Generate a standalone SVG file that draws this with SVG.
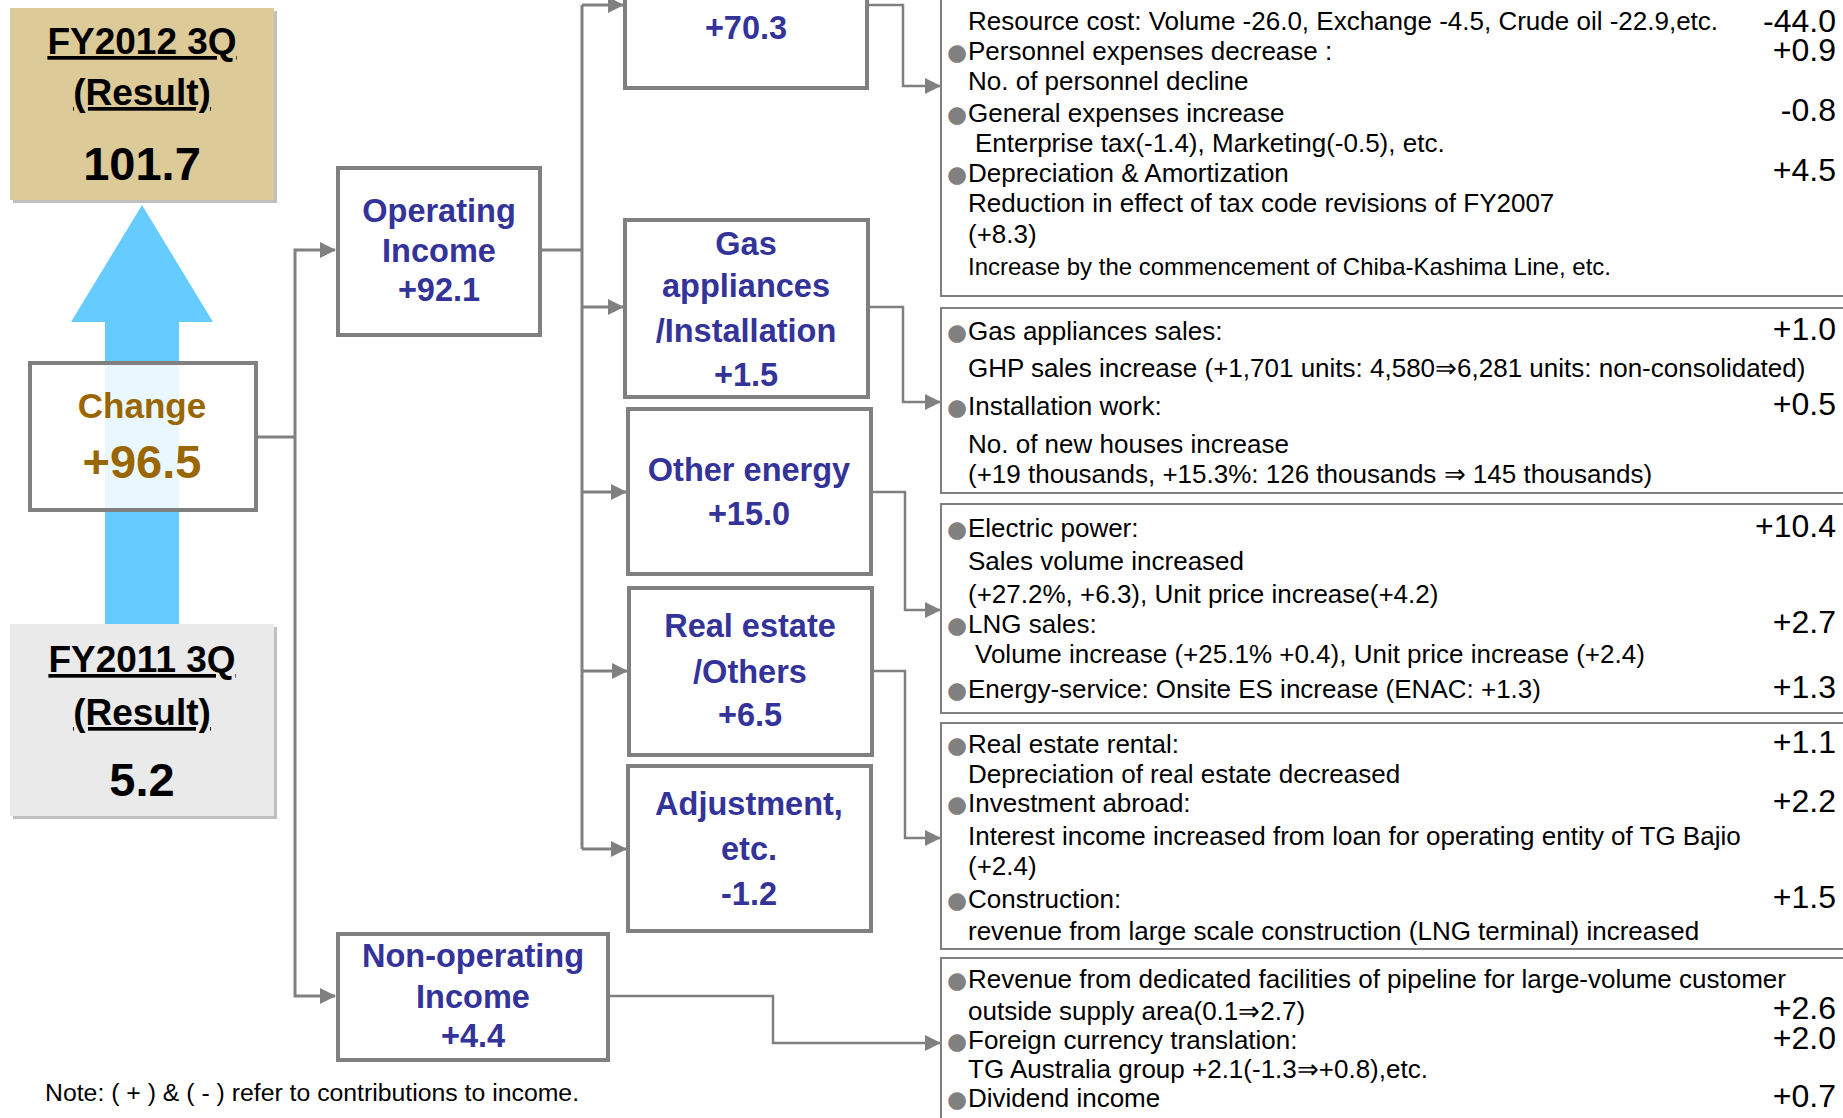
<svg xmlns="http://www.w3.org/2000/svg" width="1843" height="1118" viewBox="0 0 1843 1118">
<style>
.box{fill:#fff;stroke:#808080;stroke-width:4}
.panel{fill:#fff;stroke:#808080;stroke-width:2}
.lbl{font-family:"Liberation Sans",Arial,sans-serif;font-weight:bold;font-size:32.5px;fill:#333399;text-anchor:middle}
.big{font-family:"Liberation Sans",Arial,sans-serif;font-weight:bold;fill:#000;text-anchor:middle}
.t{font-family:"Liberation Sans",Arial,sans-serif;font-size:26px;fill:#000}
.n{font-family:"Liberation Sans",Arial,sans-serif;font-size:32px;fill:#000;text-anchor:end}
.b{font-family:"DejaVu Sans",sans-serif;font-size:23px;fill:#808080}
.conn{fill:none;stroke:#808080;stroke-width:3}
.conn2{fill:none;stroke:#808080;stroke-width:2.5}
</style>
<defs>
<marker id="arr" markerUnits="userSpaceOnUse" markerWidth="16" markerHeight="16" refX="15" refY="8" orient="auto">
<path d="M0,0 L16,8 L0,16 z" fill="#808080"/>
</marker>
</defs>

<g id="fy2012">
<rect x="13" y="11" width="264" height="192" fill="#BFBFBF"/>
<rect x="10" y="8" width="264" height="192" fill="#DCCA98"/>
<text class="big" x="142" y="54" font-size="37" text-decoration="underline">FY2012 3Q</text>
<text class="big" x="142" y="105" font-size="37" text-decoration="underline">(Result)</text>
<text class="big" x="142" y="180" font-size="47">101.7</text>
</g>

<g id="up-arrow">
<path d="M142,205 L213,322 L179,322 L179,624 L105,624 L105,322 L71,322 z" fill="#66CCFF"/>
</g>

<g id="fy2011">
<rect x="13" y="627" width="264" height="192" fill="#BFBFBF"/>
<rect x="10" y="624" width="264" height="192" fill="#EAEAEA"/>
<text class="big" x="142" y="672" font-size="37" text-decoration="underline">FY2011 3Q</text>
<text class="big" x="142" y="725" font-size="37" text-decoration="underline">(Result)</text>
<text class="big" x="142" y="796" font-size="47">5.2</text>
</g>

<g id="change">
<rect x="30" y="363" width="226" height="147" fill="#fff" fill-opacity="0.86" stroke="#808080" stroke-width="4"/>
<text class="big" x="142" y="418" font-size="35" style="fill:#996600">Change</text>
<text class="big" x="142" y="478" font-size="47" style="fill:#996600">+96.5</text>
</g>

<g id="connectors">
<path class="conn" d="M256,437 H295"/>
<path class="conn" d="M295,437 V250 H335" marker-end="url(#arr)"/>
<path class="conn" d="M295,437 V996 H335" marker-end="url(#arr)"/>
<path class="conn" d="M540,250 H582"/>
<path class="conn" d="M582,5 V849"/>
<path class="conn" d="M582,5 H623" marker-end="url(#arr)"/>
<path class="conn" d="M582,307 H623" marker-end="url(#arr)"/>
<path class="conn" d="M582,492 H626" marker-end="url(#arr)"/>
<path class="conn" d="M582,671 H627" marker-end="url(#arr)"/>
<path class="conn" d="M582,849 H626" marker-end="url(#arr)"/>
<path class="conn2" d="M867,5 H903 V86 H940" marker-end="url(#arr)"/>
<path class="conn2" d="M868,307 H903 V402 H940" marker-end="url(#arr)"/>
<path class="conn2" d="M871,492 H905 V610 H940" marker-end="url(#arr)"/>
<path class="conn2" d="M872,671 H905 V838 H940" marker-end="url(#arr)"/>
<path class="conn2" d="M608,996 H773 V1043 H940" marker-end="url(#arr)"/>
</g>

<g id="operating">
<rect class="box" x="338" y="168" width="202" height="167"/>
<text class="lbl" x="439" y="222">Operating</text>
<text class="lbl" x="439" y="262">Income</text>
<text class="lbl" x="439" y="301">+92.1</text>
</g>

<g id="nonoperating">
<rect class="box" x="338" y="934" width="270" height="126"/>
<text class="lbl" x="473" y="967">Non-operating</text>
<text class="lbl" x="473" y="1008">Income</text>
<text class="lbl" x="473" y="1047">+4.4</text>
</g>

<g id="gas-sales">
<rect class="box" x="625" y="-10" width="242" height="98"/>
<text class="lbl" x="746" y="39">+70.3</text>
</g>

<g id="appliances">
<rect class="box" x="625" y="220" width="243" height="177"/>
<text class="lbl" x="746" y="255">Gas</text>
<text class="lbl" x="746" y="297">appliances</text>
<text class="lbl" x="746" y="342">/Installation</text>
<text class="lbl" x="746" y="386">+1.5</text>
</g>

<g id="other-energy">
<rect class="box" x="628" y="409" width="243" height="165"/>
<text class="lbl" x="749" y="481">Other energy</text>
<text class="lbl" x="749" y="525">+15.0</text>
</g>

<g id="real-estate">
<rect class="box" x="629" y="588" width="243" height="167"/>
<text class="lbl" x="750" y="637">Real estate</text>
<text class="lbl" x="750" y="683">/Others</text>
<text class="lbl" x="750" y="726">+6.5</text>
</g>

<g id="adjustment">
<rect class="box" x="628" y="766" width="243" height="165"/>
<text class="lbl" x="749" y="815">Adjustment,</text>
<text class="lbl" x="749" y="860">etc.</text>
<text class="lbl" x="749" y="905">-1.2</text>
</g>

<g id="panel-gas-sales">
<rect class="panel" x="941" y="-10" width="920" height="306"/>
<text class="t" x="968" y="30">Resource cost: Volume -26.0, Exchange -4.5, Crude oil -22.9,etc.</text>
<text class="n" x="1836" y="32">-44.0</text>
<text class="b" x="947" y="60">●</text>
<text class="t" x="968" y="60">Personnel expenses decrease :</text>
<text class="n" x="1836" y="61">+0.9</text>
<text class="t" x="968" y="90">No. of personnel decline</text>
<text class="b" x="947" y="122">●</text>
<text class="t" x="968" y="122">General expenses increase</text>
<text class="n" x="1836" y="121">-0.8</text>
<text class="t" x="975" y="152">Enterprise tax(-1.4), Marketing(-0.5), etc.</text>
<text class="b" x="947" y="182">●</text>
<text class="t" x="968" y="182">Depreciation &amp; Amortization</text>
<text class="n" x="1836" y="181">+4.5</text>
<text class="t" x="968" y="212">Reduction in effect of tax code revisions of FY2007</text>
<text class="t" x="968" y="243">(+8.3)</text>
<text class="t" x="968" y="275" style="font-size:24px">Increase by the commencement of Chiba-Kashima Line, etc.</text>
</g>

<g id="panel-appliances">
<rect class="panel" x="941" y="308" width="920" height="185"/>
<text class="b" x="947" y="340">●</text>
<text class="t" x="968" y="340">Gas appliances sales:</text>
<text class="n" x="1836" y="340">+1.0</text>
<text class="t" x="968" y="377">GHP sales increase (+1,701 units: 4,580⇒6,281 units: non-consolidated)</text>
<text class="b" x="947" y="415">●</text>
<text class="t" x="968" y="415">Installation work:</text>
<text class="n" x="1836" y="415">+0.5</text>
<text class="t" x="968" y="453">No. of new houses increase</text>
<text class="t" x="968" y="483">(+19 thousands, +15.3%: 126 thousands ⇒ 145 thousands)</text>
</g>

<g id="panel-other-energy">
<rect class="panel" x="941" y="504" width="920" height="209"/>
<text class="b" x="947" y="537">●</text>
<text class="t" x="968" y="537">Electric power:</text>
<text class="n" x="1836" y="537">+10.4</text>
<text class="t" x="968" y="570">Sales volume increased</text>
<text class="t" x="968" y="603">(+27.2%, +6.3), Unit price increase(+4.2)</text>
<text class="b" x="947" y="633">●</text>
<text class="t" x="968" y="633">LNG sales:</text>
<text class="n" x="1836" y="633">+2.7</text>
<text class="t" x="975" y="663">Volume increase (+25.1% +0.4), Unit price increase (+2.4)</text>
<text class="b" x="947" y="698">●</text>
<text class="t" x="968" y="698">Energy-service: Onsite ES increase (ENAC: +1.3)</text>
<text class="n" x="1836" y="698">+1.3</text>
</g>

<g id="panel-real-estate">
<rect class="panel" x="941" y="723" width="920" height="226"/>
<text class="b" x="947" y="753">●</text>
<text class="t" x="968" y="753">Real estate rental:</text>
<text class="n" x="1836" y="753">+1.1</text>
<text class="t" x="968" y="783">Depreciation of real estate decreased</text>
<text class="b" x="947" y="812">●</text>
<text class="t" x="968" y="812">Investment abroad:</text>
<text class="n" x="1836" y="812">+2.2</text>
<text class="t" x="968" y="845">Interest income increased from loan for operating entity of TG Bajio</text>
<text class="t" x="968" y="875">(+2.4)</text>
<text class="b" x="947" y="908">●</text>
<text class="t" x="968" y="908">Construction:</text>
<text class="n" x="1836" y="908">+1.5</text>
<text class="t" x="968" y="940">revenue from large scale construction (LNG terminal) increased</text>
</g>

<g id="panel-nonoperating">
<rect class="panel" x="941" y="958" width="920" height="180"/>
<text class="b" x="947" y="988">●</text>
<text class="t" x="968" y="988">Revenue from dedicated facilities of pipeline for large-volume customer</text>
<text class="t" x="968" y="1020">outside supply area(0.1⇒2.7)</text>
<text class="n" x="1836" y="1019">+2.6</text>
<text class="b" x="947" y="1049">●</text>
<text class="t" x="968" y="1049">Foreign currency translation:</text>
<text class="n" x="1836" y="1049">+2.0</text>
<text class="t" x="968" y="1078">TG Australia group +2.1(-1.3⇒+0.8),etc.</text>
<text class="b" x="947" y="1107">●</text>
<text class="t" x="968" y="1107">Dividend income</text>
<text class="n" x="1836" y="1107">+0.7</text>
</g>

<g id="note">
<text x="45" y="1101" style="font-family:'Liberation Sans',Arial,sans-serif;font-size:24.8px;fill:#000">Note: ( + ) &amp; ( - ) refer to contributions to income.</text>
</g>
</svg>
